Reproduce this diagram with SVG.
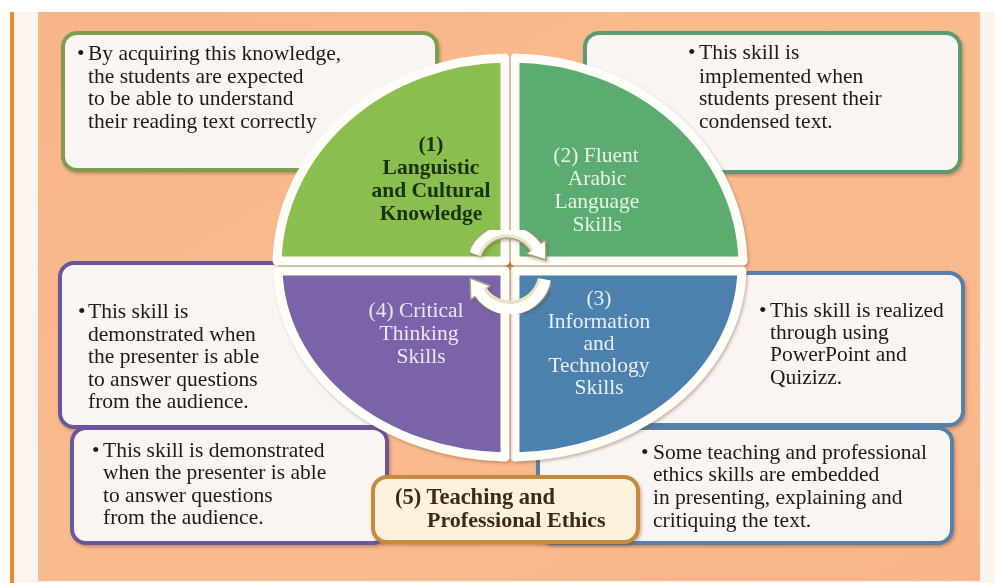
<svg xmlns="http://www.w3.org/2000/svg" width="995" height="583" viewBox="0 0 995 583">
<defs>
<style>
.box{fill:#faf5f2;stroke-width:4}
.g1{stroke:#7f9d4f}.g2{stroke:#5c9a72}.pu{stroke:#6a559f}.bl{stroke:#5780a7}
.body{font-family:"Liberation Serif","Times New Roman",serif;font-size:21.5px;fill:#1d1a18}
.lab{font-family:"Liberation Serif","Times New Roman",serif;font-size:21.5px;text-anchor:middle}
.quad{stroke:#fffdf8;stroke-width:9;stroke-linejoin:round}
.arcO{fill:none;stroke:#a39d88;stroke-width:14}
.arcW{fill:none;stroke:#fffffa;stroke-width:11}
.arcC{fill:none;stroke:#e9e4c6;stroke-width:3}
.head{fill:#fffffa;stroke:#a39d88;stroke-width:1.5;stroke-linejoin:round}
</style>
<filter id="sh" x="-5%" y="-5%" width="112%" height="118%">
<feDropShadow dx="1.5" dy="2" stdDeviation="1.5" flood-color="#6b3a1a" flood-opacity="0.35"/>
</filter>
<linearGradient id="peach" x1="0" y1="0" x2="1" y2="1">
<stop offset="0" stop-color="#f8b587"/>
<stop offset="0.5" stop-color="#f9bb8e"/>
<stop offset="1" stop-color="#f8b688"/>
</linearGradient>
</defs>

<rect x="0" y="0" width="995" height="583" fill="#ffffff"/>
<rect x="14" y="12" width="981" height="571" fill="#fcf4ee"/>
<rect x="10" y="12" width="4" height="571" fill="#ee8a2c"/>
<rect x="38" y="12" width="942" height="569" fill="url(#peach)"/>

<g id="box-1" filter="url(#sh)">
<rect class="box g1" x="63" y="33" width="374" height="137" rx="14"/>
<text class="body" x="77" y="60">•</text>
<text class="body" x="88" y="60">By acquiring this knowledge,</text>
<text class="body" x="88" y="83">the students are expected</text>
<text class="body" x="88" y="105">to be able to understand</text>
<text class="body" x="88" y="128">their reading text correctly</text>
</g>

<g id="box-2" filter="url(#sh)">
<rect class="box g2" x="585" y="33" width="375" height="139" rx="14"/>
<text class="body" x="688" y="59">•</text>
<text class="body" x="699" y="59">This skill is</text>
<text class="body" x="699" y="83">implemented when</text>
<text class="body" x="699" y="105">students present their</text>
<text class="body" x="699" y="128">condensed text.</text>
</g>

<g id="box-4a" filter="url(#sh)">
<rect class="box pu" x="60" y="263" width="340" height="164" rx="14"/>
<text class="body" x="78" y="318">•</text>
<text class="body" x="88" y="318">This skill is</text>
<text class="body" x="88" y="341">demonstrated when</text>
<text class="body" x="88" y="363">the presenter is able</text>
<text class="body" x="88" y="386">to answer questions</text>
<text class="body" x="88" y="408">from the audience.</text>
</g>

<g id="box-4b" filter="url(#sh)">
<rect class="box pu" x="72" y="428" width="315" height="115" rx="14"/>
<text class="body" x="92" y="457">•</text>
<text class="body" x="103" y="457">This skill is demonstrated</text>
<text class="body" x="103" y="479">when the presenter is able</text>
<text class="body" x="103" y="502">to answer questions</text>
<text class="body" x="103" y="524">from the audience.</text>
</g>

<g id="box-3" filter="url(#sh)">
<rect class="box bl" x="620" y="273" width="343" height="152" rx="14"/>
<text class="body" x="759" y="317">•</text>
<text class="body" x="770" y="317">This skill is realized</text>
<text class="body" x="770" y="339">through using</text>
<text class="body" x="770" y="361">PowerPoint and</text>
<text class="body" x="770" y="384">Quizizz.</text>
</g>

<g id="box-5-text" filter="url(#sh)">
<rect class="box bl" x="538" y="428" width="414" height="115" rx="14"/>
<text class="body" x="641" y="459">•</text>
<text class="body" x="653" y="459">Some teaching and professional</text>
<text class="body" x="653" y="481">ethics skills are embedded</text>
<text class="body" x="653" y="504">in presenting, explaining and</text>
<text class="body" x="653" y="527">critiquing the text.</text>
</g>

<g id="separators">
<line x1="278" y1="266" x2="742" y2="266" stroke="#c58a5e" stroke-width="2"/>
<line x1="510" y1="58" x2="510" y2="457" stroke="#c58a5e" stroke-width="2"/>
</g>

<g id="quadrant-1" filter="url(#sh)">
<path class="quad" fill="#8cbd50" d="M505,261 L277.1,261 A232,208 0 0 1 505,58.05 Z"/>
<text class="lab" x="431" y="151" font-weight="bold" fill="#1d3010" font-size="21">(1)</text>
<text class="lab" x="431" y="174" font-weight="bold" fill="#1d3010" font-size="21">Languistic</text>
<text class="lab" x="431" y="197" font-weight="bold" fill="#1d3010" font-size="21">and Cultural</text>
<text class="lab" x="431" y="220" font-weight="bold" fill="#1d3010" font-size="21">Knowledge</text>
</g>

<g id="quadrant-2" filter="url(#sh)">
<path class="quad" fill="#5bac71" d="M515,261 L515,58.05 A232,208 0 0 1 742.9,261 Z"/>
<text class="lab" x="596" y="162" fill="#e6f4e4">(2) Fluent</text>
<text class="lab" x="597" y="185" fill="#e6f4e4">Arabic</text>
<text class="lab" x="597" y="208" fill="#e6f4e4">Language</text>
<text class="lab" x="597" y="231" fill="#e6f4e4">Skills</text>
</g>

<g id="quadrant-3" filter="url(#sh)">
<path class="quad" fill="#4e81ad" d="M515,271 L741.9,271 A232,191 0 0 1 515,457 Z"/>
<text class="lab" x="599" y="305" fill="#e8eff6">(3)</text>
<text class="lab" x="599" y="327.5" fill="#e8eff6">Information</text>
<text class="lab" x="599" y="349.5" fill="#e8eff6">and</text>
<text class="lab" x="599" y="371.5" fill="#e8eff6">Technology</text>
<text class="lab" x="599" y="394" fill="#e8eff6">Skills</text>
</g>

<g id="quadrant-4" filter="url(#sh)">
<path class="quad" fill="#7a63a9" d="M505,271 L505,457 A232,191 0 0 1 278.1,271 Z"/>
<text class="lab" x="416" y="317" fill="#ece6f5">(4) Critical</text>
<text class="lab" x="419" y="340" fill="#ece6f5">Thinking</text>
<text class="lab" x="421" y="363" fill="#ece6f5">Skills</text>
</g>

<g id="connectors">
<g id="arrow-top" filter="url(#sh)">
<path class="arcO" d="M474.5,253.9 A35,35 0 0 1 535.7,246.9"/>
<polygon class="head" points="525.8,253.8 545.5,240 546,260"/>
<path class="arcW" d="M474.5,253.9 A35,35 0 0 1 538,250"/>
<path class="arcC" d="M479.5,255.8 A29,29 0 0 1 532,250"/>
</g>
<g id="arrow-bottom" filter="url(#sh)">
<path class="arcO" d="M545.2,279.5 A36,36 0 0 1 480.5,292.7"/>
<polygon class="head" points="490.3,285.8 470.7,299.5 470,278"/>
<path class="arcW" d="M545.2,279.5 A36,36 0 0 1 478,290"/>
<path class="arcC" d="M539.3,278.4 A30,30 0 0 1 485,288.5"/>
</g>
</g>

<g id="box-ethics" filter="url(#sh)">
<rect x="373" y="477" width="265" height="65" rx="14" fill="#fcf1dc" stroke="#c58a3b" stroke-width="4"/>
<text x="395" y="504" font-family="'Liberation Serif','Times New Roman',serif" font-size="22.5" font-weight="bold" fill="#3a2a18">(5) Teaching and</text>
<text x="427" y="527" font-family="'Liberation Serif','Times New Roman',serif" font-size="22" font-weight="bold" fill="#3a2a18">Professional Ethics</text>
</g>
</svg>
